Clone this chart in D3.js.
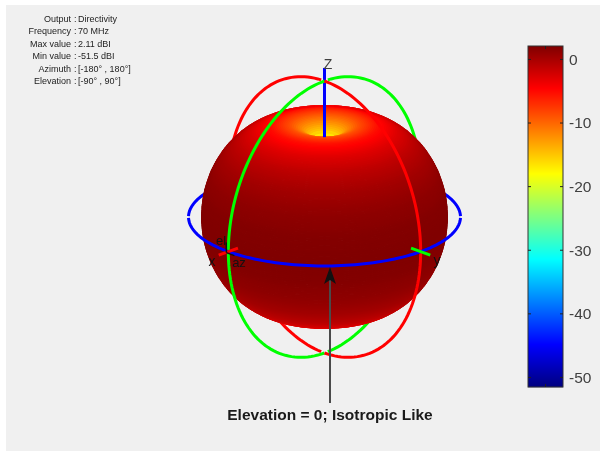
<!DOCTYPE html>
<html><head><meta charset="utf-8">
<script src="https://cdn.jsdelivr.net/npm/d3@7"></script>
<style>
html,body{margin:0;padding:0;background:#fff;overflow:hidden}
svg{display:block;filter:blur(0.45px)}
text{font-family:"Liberation Sans",Arial,sans-serif}
</style></head><body>
<svg id="c" width="608" height="451"></svg>
<script>
// ---- data ----
const infoLabels = ["Output","Frequency","Max value","Min value","Azimuth","Elevation"];
const infoValues = ["Directivity","70 MHz","2.11 dBI","-51.5 dBI","[-180° , 180°]","[-90° , 90°]"];
const elevationDeg = [0,10,20,30,40,50,60,70,75,80,85,88,90];
const directivityDb = [2.11,1.92,1.33,0.35,-1.06,-2.94,-5.4,-9.05,-11.6,-15.1,-21,-29.1,-51.5];
const colorbarTicks = [0,-10,-20,-30,-40,-50];
const jetStops = ["#000080","#0000ff","#00ffff","#ffff00","#ff0000","#800000"];
const jetPositions = [0,0.125,0.375,0.625,0.875,1];
const minDb = -51.5, maxDb = 2.11;
const annotation = "Elevation = 0; Isotropic Like";

const svg = d3.select("#c");
svg.append("rect").attr("x",6).attr("y",5).attr("width",594).attr("height",446).attr("fill","#f0f0f0");

// ---- scales ----
const cx = 324.5, cy = 217, unit = 136, tilt = 0.36, cosAz = Math.SQRT1_2;
const elevScale = d3.scaleLinear().domain(elevationDeg).range(directivityDb).clamp(true);
const radiusScale = d3.scaleLinear().domain([minDb,maxDb]).range([0,122.8/unit]);
const jet = d3.scaleLinear().domain(jetPositions).range(jetStops).interpolate(d3.interpolateRgb);
const dbToJet = d => jet((d-minDb)/(maxDb-minDb));
const px = (x,y) => cx + unit*(y-x)*cosAz;
const py = (x,y,z) => cy - unit*(z - tilt*cosAz*(x+y));
const line3 = d3.line().x(p=>px(p[0],p[1])).y(p=>py(p[0],p[1],p[2]));

// ---- reference circles ----
const rad = d3.range(0,361,2).map(d=>d*Math.PI/180);
const green = rad.map(t=>[Math.cos(t),0,Math.sin(t)]);
const red = rad.map(t=>[0,Math.cos(t),Math.sin(t)]);
const blue = rad.map(t=>[Math.cos(t),Math.sin(t),0]);
const half = (pts,front) => {
  const sel = pts.filter(p=>(p[0]+p[1]>=-1e-9)===front);
  const i = sel.findIndex((p,k)=>k>0 && Math.hypot(p[0]-sel[k-1][0],p[1]-sel[k-1][1],p[2]-sel[k-1][2])>0.2);
  return i>0 ? sel.slice(i).concat(sel.slice(0,i)) : sel;
};
function ring(pts,color){
  svg.append("path").attr("d",line3(pts)).attr("fill","none").attr("stroke",color).attr("stroke-width",3);
}
ring(half(green,false),"#00ff00");
ring(half(red,false),"#ff0000");
ring(half(blue,false),"#0000ff");

// ---- surface: one path per elevation band, painted from the poles towards the equator ----
const azSteps = d3.range(0,360,3);
function vert(el,az){
  const r = radiusScale(elevScale(Math.abs(el)));
  const e = el*Math.PI/180, a = az*Math.PI/180;
  return [r*Math.cos(e)*Math.cos(a), r*Math.cos(e)*Math.sin(a), r*Math.sin(e)];
}
const bandStarts = d3.range(-90,90,1);
const bands = bandStarts.map(e0=>{
  const e1=e0+1;
  let d="";
  for(const a0 of azSteps){
    const a1=a0+3;
    const poly=[vert(e0,a0),vert(e0,a1),vert(e1,a1),vert(e1,a0)].map(p=>[px(p[0],p[1]),py(p[0],p[1],p[2])]);
    if(d3.polygonArea(poly)<=0) continue;
    d+="M"+poly.map(p=>p[0].toFixed(2)+","+p[1].toFixed(2)).join("L")+"Z";
  }
  return {d,mid:Math.abs(e0+0.5),c:dbToJet(elevScale(Math.abs(e0+0.5)))};
}).sort((a,b)=>b.mid-a.mid);
svg.append("g").selectAll("path").data(bands).join("path")
  .attr("d",d=>d.d).attr("fill",d=>d.c).attr("stroke",d=>d.c).attr("stroke-width",1.4).attr("stroke-linejoin","round");

// ---- z axis: visible above the front rim of the dimple ----
const rimZ = d3.max(d3.range(0,90,1),el=>{
  const r=radiusScale(elevScale(el)),e=el*Math.PI/180;
  return r*Math.sin(e)-tilt*r*Math.cos(e);
});
ring([[0,0,rimZ],[0,0,1.096]],"#0000ff");

// ---- front halves ----
ring(half(green,true),"#00ff00");
ring(half(red,true),"#ff0000");
ring(half(blue,true),"#0000ff");
ring([[0.9,0,0],[1.1,0,0]],"#ff0000");
ring([[0,0.9,0],[0,1.1,0]],"#00ff00");

// local frame at the x axis tip
const fx = px(1,0)-2, fy = py(1,0,0)+1;
svg.append("path").attr("d",`M${fx},${fy}V${fy-10}M${fx},${fy}L${fx+8},${fy+3}`)
  .attr("stroke","#111").attr("stroke-width",1.5).attr("fill","none");

// axis labels
const axisLabel=(s,x,y,size,c)=>svg.append("text").text(s).attr("x",x).attr("y",y)
  .attr("font-size",size).attr("fill",c||"#111").attr("text-anchor","middle");
axisLabel("Z",328,69,14,"#404040");
axisLabel("x",212,266,14);
axisLabel("y",437,265,14);
axisLabel("el",221,245,13);
axisLabel("az",239,267,13);

// ---- annotation arrow ----
svg.append("path").attr("d",d3.line()([[330,403],[330,278]])).attr("stroke","#4a4a4a").attr("stroke-width",2).attr("fill","none");
svg.append("path").attr("d",d3.line()([[330,267],[336,284],[330,280],[324,284]])+"Z").attr("fill","#111");
svg.append("text").text(annotation).attr("x",330).attr("y",420).attr("text-anchor","middle")
  .attr("font-size",15.5).attr("font-weight","bold").attr("fill","#1a1a1a");

// ---- info block ----
const rowY = d3.scalePoint().domain(infoLabels).range([22,84]);
const info = svg.append("g").attr("font-size",9).attr("fill","#222");
infoLabels.forEach((l,i)=>{
  info.append("text").text(l).attr("x",71).attr("y",rowY(l)).attr("text-anchor","end");
  info.append("text").text(":").attr("x",74).attr("y",rowY(l));
  info.append("text").text(infoValues[i]).attr("x",78).attr("y",rowY(l));
});

// ---- colour bar ----
const barX=528, barW=35, barTop=46, barBottom=387;
const barScale = d3.scaleLinear().domain([maxDb,minDb]).range([barTop,barBottom]);
const levels = d3.range(0,barBottom-barTop);
svg.append("g").selectAll("rect").data(levels).join("rect")
  .attr("x",barX).attr("width",barW)
  .attr("y",i=>barTop+i).attr("height",1.2)
  .attr("fill",i=>dbToJet(barScale.invert(barTop+i+0.5)));
svg.append("rect").attr("x",barX).attr("y",barTop).attr("width",barW).attr("height",barBottom-barTop)
  .attr("fill","none").attr("stroke","#333").attr("stroke-width",1);
const axisR = d3.axisRight(barScale).tickValues(colorbarTicks).tickSize(0).tickPadding(6).tickFormat(d=>String(d));
const ag = svg.append("g").attr("transform",`translate(${barX+barW},0)`).call(axisR);
ag.select(".domain").remove();
ag.selectAll("text").attr("font-size",15.5).attr("fill","#404040").style("font-family",'"Liberation Sans",Arial,sans-serif');
const tickG = svg.append("g").attr("stroke","#222").attr("stroke-width",1);
colorbarTicks.forEach(t=>{
  tickG.append("line").attr("x1",barX).attr("x2",barX+3).attr("y1",barScale(t)).attr("y2",barScale(t));
  tickG.append("line").attr("x1",barX+barW-3).attr("x2",barX+barW).attr("y1",barScale(t)).attr("y2",barScale(t));
});
const barMid = barX+barW/2;
tickG.append("line").attr("x1",barMid).attr("x2",barMid).attr("y1",barTop).attr("y2",barTop+3);
tickG.append("line").attr("x1",barMid).attr("x2",barMid).attr("y1",barBottom-3).attr("y2",barBottom);
</script>
</body></html>
